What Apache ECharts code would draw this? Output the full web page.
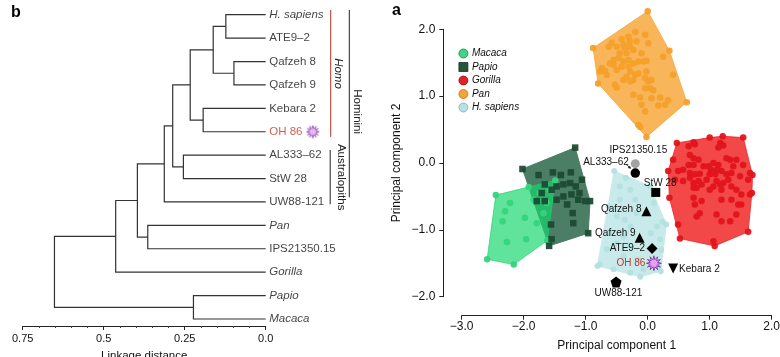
<!DOCTYPE html>
<html><head><meta charset="utf-8">
<script src="https://cdn.jsdelivr.net/npm/echarts@6/dist/echarts.min.js"></script>
<style>html,body{margin:0;padding:0;background:#fff}#c{width:780px;height:357px}</style>
</head><body><div id="c"></div>
<script>
// ================= DATA =================
// Dendrogram (panel b)
const leafNames = ['H. sapiens','ATE9–2','Qafzeh 8','Qafzeh 9','Kebara 2','OH 86','AL333–62','StW 28','UW88-121','Pan','IPS21350.15','Gorilla','Papio','Macaca'];
// merges: ids < 14 are leaves, id 14+k is merge k
const mergeLeft   = [0, 2, 14, 4, 16, 6, 18, 20, 9, 21, 23, 12, 24];
const mergeRight  = [1, 3, 15, 5, 17, 7, 19, 8, 10, 22, 11, 13, 25];
const mergeHeight = [0.123, 0.098, 0.162, 0.193, 0.233, 0.254, 0.287, 0.313, 0.364, 0.396, 0.463, 0.223, 0.652];
const cladeNames = ['Homo', 'Australopiths', 'Hominini'];
const cladeFirstLeaf = [0, 6, 0];
const cladeLastLeaf  = [5, 8, 8];

// PCA (panel a): [PC1, PC2]
const macaca = [[-2.45,-0.48],[-1.92,-0.36],[-1.49,-0.26],[-1.62,-1.16],[-2.16,-1.52],[-2.59,-1.44],[-2.22,-0.60],[-2.30,-0.72],[-2.34,-0.87],[-1.98,-0.82],[-2.27,-1.18],[-1.96,-1.14],[-1.84,-0.55],[-1.74,-0.45],[-1.68,-0.75],[-1.79,-0.90],[-1.63,-0.60],[-1.58,-0.40]];
const papio = [[-2.02,-0.09],[-1.17,0.23],[-0.93,-0.57],[-0.96,-1.05],[-1.59,-1.24],[-1.76,-0.18],[-1.53,-0.14],[-1.40,-0.18],[-1.24,-0.14],[-1.66,-0.32],[-1.55,-0.40],[-1.47,-0.35],[-1.36,-0.32],[-1.25,-0.30],[-1.16,-0.35],[-1.06,-0.25],[-1.23,-0.47],[-1.36,-0.50],[-1.12,-0.55],[-1.01,-0.57],[-1.79,-0.57],[-1.66,-0.57],[-1.47,-0.55],[-1.21,-0.75],[-1.20,-0.90],[-1.56,-0.92],[-1.55,-1.14],[-1.71,-0.45],[-1.30,-0.62],[-1.10,-0.45]];
const gorilla = [[0.47,0.30],[1.00,0.38],[1.21,0.40],[1.54,0.38],[1.69,-0.18],[1.68,-0.45],[1.62,-1.03],[1.08,-1.24],[0.52,-1.13],[0.49,-0.92],[0.35,-0.52],[0.33,-0.12],[0.74,0.31],[0.66,0.25],[0.76,0.28],[1.17,0.30],[1.14,0.23],[1.22,0.26],[0.68,0.12],[0.74,0.07],[0.82,0.05],[0.66,-0.03],[0.74,-0.03],[0.90,-0.05],[0.98,-0.05],[1.06,0.00],[1.14,-0.03],[1.27,0.07],[1.33,0.05],[1.43,0.05],[1.38,-0.05],[1.54,-0.03],[1.65,-0.15],[0.49,-0.12],[0.57,-0.10],[0.68,-0.15],[0.76,-0.17],[0.84,-0.16],[1.00,-0.17],[1.09,-0.17],[1.19,-0.12],[1.27,-0.17],[1.35,-0.15],[1.49,-0.20],[1.62,-0.25],[0.44,-0.25],[0.57,-0.27],[0.68,-0.22],[0.74,-0.30],[0.82,-0.27],[0.87,-0.32],[0.74,-0.37],[0.79,-0.37],[1.11,-0.27],[1.17,-0.32],[1.22,-0.30],[1.30,-0.25],[1.35,-0.35],[1.43,-0.40],[1.51,-0.47],[1.65,-0.47],[1.00,-0.40],[1.06,-0.35],[1.19,-0.40],[0.74,-0.52],[0.87,-0.57],[0.76,-0.62],[1.19,-0.55],[1.35,-0.55],[1.46,-0.62],[1.51,-0.62],[0.84,-0.75],[0.79,-0.80],[1.11,-0.77],[1.19,-0.87],[1.33,-0.87],[1.43,-0.77],[1.06,-1.17],[0.41,0.05],[1.02,-0.10],[1.12,-0.10],[0.95,-0.25]];
const pan = [[0.00,2.27],[-0.88,1.72],[-0.80,1.19],[-0.02,0.39],[0.63,0.91],[0.35,1.68],[0.41,1.32],[0.25,1.59],[-0.04,1.92],[-0.20,1.96],[-0.31,1.89],[-0.42,1.85],[-0.58,1.80],[-0.63,1.74],[-0.50,1.74],[-0.39,1.77],[-0.29,1.74],[-0.23,1.69],[-0.34,1.64],[-0.45,1.64],[-0.47,1.57],[-0.55,1.54],[-0.61,1.49],[-0.39,1.52],[-0.31,1.54],[-0.23,1.49],[-0.15,1.52],[-0.07,1.52],[-0.02,1.53],[-0.10,1.64],[0.01,1.79],[-0.02,1.37],[-0.15,1.34],[-0.20,1.32],[-0.28,1.37],[-0.34,1.29],[-0.39,1.24],[-0.53,1.17],[-0.50,1.13],[-0.28,1.22],[-0.23,1.24],[-0.04,1.27],[0.01,1.22],[0.04,1.12],[-0.04,1.12],[0.09,1.09],[0.06,1.24],[-0.23,1.02],[-0.12,0.98],[0.06,0.97],[0.20,0.98],[0.33,0.94],[0.28,0.87],[0.17,0.86],[-0.10,0.87],[-0.04,0.77],[-0.15,0.57],[-0.12,0.54],[-0.74,1.42],[-0.77,1.37],[-0.69,1.38],[-0.66,1.32],[-0.50,1.39],[-0.42,1.44],[-0.31,1.44],[-0.55,1.47],[-0.37,1.72],[-0.29,1.82],[-0.18,1.82]];
const hSapiens = [[-0.54,-0.12],[-0.35,-0.22],[0.04,-0.35],[0.30,-0.92],[0.21,-1.62],[-0.12,-1.70],[-0.81,-1.54],[-0.63,-0.65],[-0.45,-0.35],[-0.28,-0.40],[-0.50,-0.80],[-0.37,-0.85],[-0.18,-0.75],[-0.28,-0.95],[0.15,-0.95],[0.24,-0.88],[-0.61,-1.05],[-0.39,-1.10],[0.20,-1.14],[-0.66,-1.29],[-0.39,-1.39],[-0.28,-1.24],[-0.77,-1.52],[-0.55,-1.59],[-0.28,-1.64],[-0.07,-1.59],[0.17,-1.54],[-0.45,-0.55],[-0.20,-0.55],[0.10,-0.60],[-0.15,-1.45],[0.05,-1.05],[-0.50,-1.20],[0.22,-1.30]];
const specimenNames = ['IPS21350.15','AL333–62','StW 28','Qafzeh 8','Qafzeh 9','ATE9–2','OH 86','Kebara 2','UW88-121'];
const specimenPC1 = [-0.20, -0.20, 0.13, -0.02, -0.13, 0.07, 0.10, 0.41, -0.51];
const specimenPC2 = [-0.01, -0.15, -0.44, -0.72, -1.12, -1.28, -1.50, -1.58, -1.78];

// ================= DRAWING =================
const FONT = "'Liberation Sans', Arial, Helvetica, sans-serif";
const nLeaf = leafNames.length;
const nodeX = [], nodeY = [];
leafNames.forEach((_, i) => { nodeX[i] = 0; nodeY[i] = i; });
mergeHeight.forEach((h, k) => {
  nodeX[nLeaf + k] = h;
  nodeY[nLeaf + k] = (nodeY[mergeLeft[k]] + nodeY[mergeRight[k]]) / 2;
});
const linkData = mergeHeight.map((h, k) => [nodeX[mergeLeft[k]], nodeY[mergeLeft[k]], nodeX[mergeRight[k]], nodeY[mergeRight[k]], h]);

function starPath(n, rIn) {
  let s = 'path://';
  for (let k = 0; k < 2 * n; k++) {
    const r = k % 2 === 0 ? 10 : 10 * rIn;
    const a = Math.PI * k / n - Math.PI / 2;
    s += (k ? 'L' : 'M') + (r * Math.cos(a)).toFixed(3) + ',' + (r * Math.sin(a)).toFixed(3) + ' ';
  }
  return s + 'Z';
}
const STAR = starPath(12, 0.5);
const starCanvas = document.createElement('canvas');
starCanvas.width = 14; starCanvas.height = 14;
(function () {
  const c = starCanvas.getContext('2d');
  c.beginPath();
  const n = 12;
  for (let k = 0; k < 2 * n; k++) {
    const r = k % 2 === 0 ? 6.3 : 3.2;
    const a = Math.PI * k / n - Math.PI / 2;
    const x = 7 + r * Math.cos(a), y = 7 + r * Math.sin(a);
    k ? c.lineTo(x, y) : c.moveTo(x, y);
  }
  c.closePath();
  c.fillStyle = '#ec9ff2'; c.fill();
  c.strokeStyle = '#7b3aa0'; c.lineWidth = 0.9; c.stroke();
})();

const italicNames = ['H. sapiens', 'Pan', 'Gorilla', 'Papio', 'Macaca'];

function convexHull(points) {
  const p = points.slice().sort((a, b) => a[0] - b[0] || a[1] - b[1]);
  const cross = (o, a, b) => (a[0] - o[0]) * (b[1] - o[1]) - (a[1] - o[1]) * (b[0] - o[0]);
  const lower = [], upper = [];
  for (const q of p) { while (lower.length >= 2 && cross(lower[lower.length - 2], lower[lower.length - 1], q) <= 0) lower.pop(); lower.push(q); }
  for (let i = p.length - 1; i >= 0; i--) { const q = p[i]; while (upper.length >= 2 && cross(upper[upper.length - 2], upper[upper.length - 1], q) <= 0) upper.pop(); upper.push(q); }
  upper.pop(); lower.pop();
  return lower.concat(upper);
}

function hullSeries(pts, fill, z) {
  const h = convexHull(pts);
  return {
    type: 'custom', xAxisIndex: 1, yAxisIndex: 1, z: z, clip: false, silent: true,
    data: h, encode: { x: 0, y: 1 },
    renderItem: (params, api) => params.dataIndex === 0
      ? { type: 'polygon', shape: { points: h.map(q => api.coord(q)) }, style: { fill: fill, stroke: fill, lineWidth: 1 } }
      : { type: 'group', children: [] }
  };
}

const species = [
  { name: 'Macaca', data: macaca, color: '#35d47c', symbol: 'circle', size: 6.5, border: '#1d7a45' },
  { name: 'Papio', data: papio, color: '#1c4a33', symbol: 'rect', size: 6.5, border: '#0f2e1f' },
  { name: 'Gorilla', data: gorilla, color: '#e2141c', symbol: 'circle', size: 6.5, border: '#8a0b10' },
  { name: 'Pan', data: pan, color: '#f4a02a', symbol: 'circle', size: 6.5, border: '#b86d10' },
  { name: 'H. sapiens', data: hSapiens, color: '#b4e0e0', symbol: 'circle', size: 6, border: '#7fa9aa' }
];

const cladeStyle = [
  { color: '#b8322c', lineDx: 65, textDx: 72.5, padTop: 0.2, padBot: 0.22, textDy: 0, italic: true },
  { color: '#222', lineDx: 64.5, textDx: 75.5, padTop: 0.22, padBot: 0.1, textDy: 0, italic: false },
  { color: '#222', lineDx: 83.6, textDx: 91.5, padTop: 0.2, padBot: -0.2, textDy: 8, italic: false }
];

const specimenStyle = [
  { symbol: 'circle', size: 9, color: '#a3a3a3', align: 'center', offset: [3, -13.5] },
  { symbol: 'circle', size: 9.5, color: '#000', align: 'right', offset: [-6.5, -10.6] },
  { symbol: 'rect', size: 9, color: '#000', align: 'center', offset: [4.5, -9] },
  { symbol: 'triangle', size: 10, color: '#000', align: 'right', offset: [-5, -1.7] },
  { symbol: 'triangle', size: 10, color: '#000', align: 'right', offset: [-4, -5] },
  { symbol: 'diamond', size: 11, color: '#000', align: 'right', offset: [-7, 0] },
  { symbol: STAR, size: 15, color: '#ec9ff2', border: '#7b3aa0', align: 'right', offset: [-8.5, 0], labelColor: '#c0392b' },
  { symbol: 'triangle', rotate: 180, size: 10, color: '#000', align: 'left', offset: [6, 0.7] },
  { symbol: 'path://M0,-10 L9.51,-3.09 L5.88,8.09 L-5.88,8.09 L-9.51,-3.09 Z', size: 11, color: '#000', align: 'center', offset: [2.3, 10.8] }
];

const fmtPC = v => (v < 0 ? '\u2212' : '') + Math.abs(v).toFixed(1);

const series = [];
// dendrogram links
series.push({
  type: 'custom', xAxisIndex: 0, yAxisIndex: 0, clip: false, silent: true,
  data: linkData, encode: { x: [0, 2, 4], y: [1, 3] },
  renderItem: (params, api) => {
    const a = api.coord([api.value(0), api.value(1)]);
    const n1 = api.coord([api.value(4), api.value(1)]);
    const n2 = api.coord([api.value(4), api.value(3)]);
    const b = api.coord([api.value(2), api.value(3)]);
    return { type: 'polyline', shape: { points: [a, n1, n2, b] }, style: { stroke: '#333', lineWidth: 1.2, fill: 'none' } };
  }
});
// leaf labels
series.push({
  type: 'scatter', xAxisIndex: 0, yAxisIndex: 0, clip: false, silent: true,
  symbolSize: 1, itemStyle: { color: 'rgba(0,0,0,0)' },
  data: leafNames.map((n, i) => [0, i]),
  label: {
    show: true, position: 'right', distance: 3,
    formatter: p => {
      const n = leafNames[p.dataIndex];
      if (n === 'OH 86') return '{r|OH 86} {s|}';
      return italicNames.indexOf(n) >= 0 ? '{i|' + n + '}' : '{n|' + n + '}';
    },
    rich: {
      n: { fontSize: 11.5, color: '#111', fontFamily: FONT },
      i: { fontSize: 11.5, color: '#111', fontStyle: 'italic', fontFamily: FONT },
      r: { fontSize: 11.5, color: '#c0392b', fontFamily: FONT },
      s: { width: 14, height: 14, backgroundColor: { image: starCanvas } }
    }
  }
});
// clade brackets
series.push({
  type: 'custom', xAxisIndex: 0, yAxisIndex: 0, clip: false, silent: true,
  data: cladeNames.map((n, i) => [0, cladeFirstLeaf[i], cladeLastLeaf[i]]),
  encode: { x: 0, y: [1, 2] },
  renderItem: (params, api) => {
    const i = params.dataIndex, st = cladeStyle[i];
    const top = api.coord([0, api.value(1) - st.padTop]);
    const bot = api.coord([0, api.value(2) + st.padBot]);
    const x = top[0] + st.lineDx;
    return {
      type: 'group', children: [
        { type: 'line', shape: { x1: x, y1: top[1], x2: x, y2: bot[1] }, style: { stroke: st.color, lineWidth: 1 } },
        { type: 'text', x: top[0] + st.textDx, y: (top[1] + bot[1]) / 2 + st.textDy, rotation: -Math.PI / 2,
          style: { text: cladeNames[i], fill: '#222', fontSize: 11.5, fontStyle: st.italic ? 'italic' : 'normal', fontFamily: FONT, align: 'center', verticalAlign: 'middle' } }
      ]
    };
  }
});
// hulls
series.push(hullSeries(papio, '#4b7e65', 1));
series.push(hullSeries(macaca, 'rgba(20,214,108,0.68)', 1.1));
series.push(hullSeries(gorilla, 'rgba(240,40,40,0.85)', 1));
series.push(hullSeries(pan, 'rgba(248,168,60,0.85)', 1));
series.push(hullSeries(hSapiens, '#c9eaea', 1));
// species points
species.forEach(s => {
  series.push({
    name: s.name, type: 'scatter', xAxisIndex: 1, yAxisIndex: 1, clip: false, silent: true, z: 2,
    symbol: s.symbol, symbolSize: s.size, data: s.data,
    itemStyle: { color: s.color, opacity: 0.95 }
  });
});
// labelled specimens
specimenNames.forEach((n, i) => {
  const st = specimenStyle[i];
  series.push({
    type: 'scatter', xAxisIndex: 1, yAxisIndex: 1, clip: false, silent: true, z: 4,
    symbol: st.symbol, symbolSize: st.size, symbolRotate: st.rotate || 0,
    data: [[specimenPC1[i], specimenPC2[i]]],
    itemStyle: { color: st.color, borderColor: st.border || st.color, borderWidth: st.border ? 0.9 : 0, opacity: 1 },
    label: { show: true, formatter: n, position: 'inside', align: st.align, verticalAlign: 'middle', offset: st.offset,
      fontSize: 10, fontFamily: FONT, color: st.labelColor || '#111' }
  });
});
// arrow from AL333–62 label
series.push({
  type: 'custom', xAxisIndex: 1, yAxisIndex: 1, clip: false, silent: true, z: 5,
  data: [[specimenPC1[1], specimenPC2[1]]], encode: { x: 0, y: 1 },
  renderItem: (params, api) => {
    const p = api.coord([api.value(0), api.value(1)]);
    const x1 = p[0] - 9, y1 = p[1] - 8.5, x2 = p[0] - 4.2, y2 = p[1] - 4.2;
    const dx = x2 - x1, dy = y2 - y1, L = Math.hypot(dx, dy), ux = dx / L, uy = dy / L;
    const bx = x2 - ux * 3, by = y2 - uy * 3;
    return { type: 'group', children: [
      { type: 'line', shape: { x1, y1, x2: bx, y2: by }, style: { stroke: '#111', lineWidth: 0.9 } },
      { type: 'polygon', shape: { points: [[x2, y2], [bx - uy * 1.6, by + ux * 1.6], [bx + uy * 1.6, by - ux * 1.6]] }, style: { fill: '#111' } }
    ] };
  }
});

const option = {
  animation: false,
  backgroundColor: '#fff',
  textStyle: { fontFamily: FONT },
  grid: [
    { left: 22.7, right: 514.3, top: 7.7, bottom: 31, containLabel: false, outerBoundsMode: 'none' },
    { left: 461.7, right: 8.3, top: 29.3, bottom: 60.3, containLabel: false, outerBoundsMode: 'none' }
  ],
  xAxis: [
    { gridIndex: 0, type: 'value', inverse: true, min: 0, max: 0.75, interval: 0.25, position: 'bottom',
      name: 'Linkage distance', nameLocation: 'middle', nameGap: 24,
      nameTextStyle: { fontSize: 11.5, color: '#111', fontFamily: FONT },
      axisLine: { onZero: false, lineStyle: { color: '#222', width: 1 } },
      axisTick: { length: 4, lineStyle: { color: '#222' } },
      minorTick: { show: true, splitNumber: 5, length: 2, lineStyle: { color: '#444' } },
      splitLine: { show: false },
      axisLabel: { fontSize: 11, color: '#111', margin: 7, fontFamily: FONT, formatter: v => v === 0 ? '0.0' : String(v) } },
    { gridIndex: 1, type: 'value', min: -3, max: 2, interval: 1, offset: 19, position: 'bottom',
      name: 'Principal component 1', nameLocation: 'middle', nameGap: 24,
      nameTextStyle: { fontSize: 12, color: '#111', fontFamily: FONT },
      axisLine: { onZero: false, lineStyle: { color: '#222', width: 1 } },
      axisTick: { length: 4, lineStyle: { color: '#222' } },
      splitLine: { show: false },
      axisLabel: { fontSize: 12, color: '#111', margin: 5, fontFamily: FONT, formatter: fmtPC } }
  ],
  yAxis: [
    { gridIndex: 0, type: 'value', inverse: true, min: -0.3, max: 13.3, show: false },
    { gridIndex: 1, type: 'value', min: -2, max: 2, interval: 1, offset: 18.4, position: 'left',
      name: 'Principal component 2', nameLocation: 'middle', nameGap: 41,
      nameTextStyle: { fontSize: 12, color: '#111', fontFamily: FONT },
      axisLine: { show: true, onZero: false, lineStyle: { color: '#222', width: 1 } },
      axisTick: { show: true, length: 4, lineStyle: { color: '#222' } },
      splitLine: { show: false },
      axisLabel: { fontSize: 12, color: '#111', margin: 8, fontFamily: FONT, formatter: fmtPC } }
  ],
  legend: {
    orient: 'vertical', left: 453.5, top: 43.5, itemWidth: 9, itemHeight: 9, itemGap: 3.5,
    selectedMode: false,
    textStyle: { fontSize: 10, fontStyle: 'italic', color: '#111', fontFamily: FONT, padding: [0, 0, 0, -1] },
    data: species.map(s => ({ name: s.name, icon: s.symbol === 'rect' ? 'rect' : 'circle',
      itemStyle: { color: s.color, borderColor: s.border, borderWidth: 0.8 } }))
  },
  graphic: [
    { type: 'text', left: 11, top: 5, style: { text: 'b', fontSize: 16, fontWeight: 'bold', fill: '#000', fontFamily: FONT } },
    { type: 'text', left: 392, top: 3, style: { text: 'a', fontSize: 16, fontWeight: 'bold', fill: '#000', fontFamily: FONT } }
  ],
  series: series
};
const chart = echarts.init(document.getElementById('c'));
chart.setOption(option);
</script>
</body></html>
